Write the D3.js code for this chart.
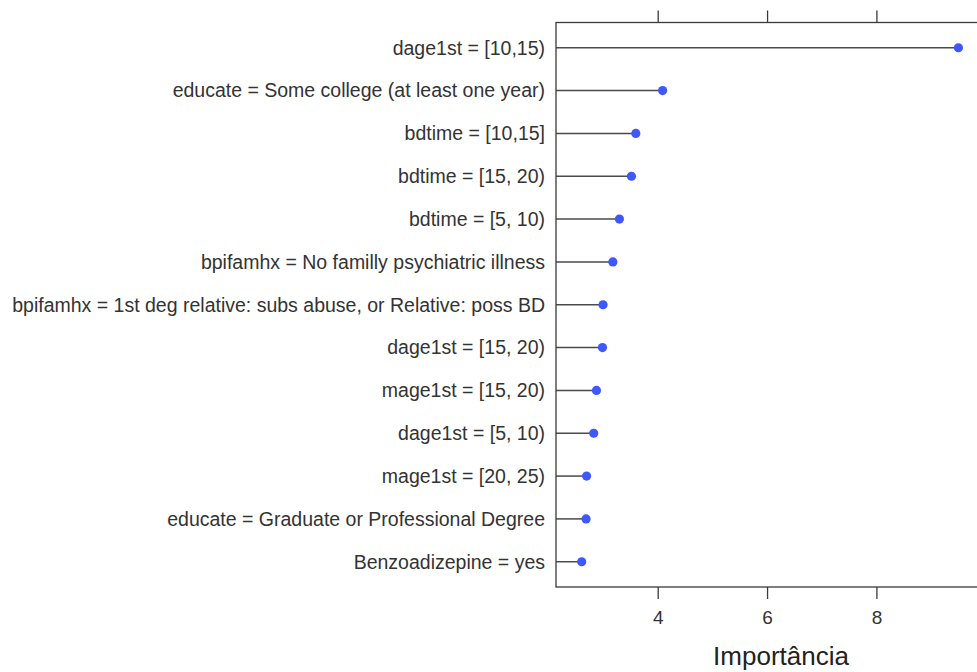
<!DOCTYPE html>
<html>
<head>
<meta charset="utf-8">
<script src="https://cdn.jsdelivr.net/npm/d3@7"></script>
<style>
  html, body { margin: 0; padding: 0; background: #fff; }
  svg { display: block; font-family: "Liberation Sans", Arial, Helvetica, sans-serif; }
</style>
</head>
<body>
<svg id="chart" width="977" height="672"></svg>
<script>
// Variable importance, one row per predictor level (top row = most important)
const features = [
  "dage1st = [10,15)",
  "educate = Some college (at least one year)",
  "bdtime = [10,15]",
  "bdtime = [15, 20)",
  "bdtime = [5, 10)",
  "bpifamhx = No familly psychiatric illness",
  "bpifamhx = 1st deg relative: subs abuse, or Relative: poss BD",
  "dage1st = [15, 20)",
  "mage1st = [15, 20)",
  "dage1st = [5, 10)",
  "mage1st = [20, 25)",
  "educate = Graduate or Professional Degree",
  "Benzoadizepine = yes"
];
const importance = [9.50, 4.09, 3.60, 3.52, 3.30, 3.18, 3.00, 2.99, 2.88, 2.83, 2.70, 2.69, 2.61];
const xTicks = [4, 6, 8];
const xLabel = "Importância";

const svg = d3.select("#chart");
const panel = { left: 556, right: 1006, top: 22.5, bottom: 587 };

const x = d3.scaleLinear().domain([2.14, 10.37]).range([panel.left, panel.right]);
const y = d3.scalePoint().domain(features).range([panel.top, panel.bottom]).padding(0.59);

const axisColor = "#3a3a3a";

// lollipop stems from the panel's left edge
svg.append("g").selectAll("line")
  .data(features)
  .join("line")
  .attr("x1", panel.left)
  .attr("x2", (d, i) => x(importance[i]))
  .attr("y1", d => y(d))
  .attr("y2", d => y(d))
  .attr("stroke", "#4a4a4a")
  .attr("stroke-width", 1.5);

// points
svg.append("g").selectAll("circle")
  .data(features)
  .join("circle")
  .attr("cx", (d, i) => x(importance[i]))
  .attr("cy", d => y(d))
  .attr("r", 4.6)
  .attr("fill", "#3f57ff");

// panel frame
svg.append("rect")
  .attr("x", panel.left).attr("y", panel.top)
  .attr("width", panel.right - panel.left).attr("height", panel.bottom - panel.top)
  .attr("fill", "none").attr("stroke", axisColor).attr("stroke-width", 1.3);

// bottom axis with labels
const axisB = svg.append("g")
  .attr("transform", `translate(0,${panel.bottom})`)
  .call(d3.axisBottom(x).tickValues(xTicks).tickSize(12).tickPadding(12).tickSizeOuter(0));
axisB.select(".domain").remove();
axisB.selectAll(".tick line").attr("stroke", axisColor).attr("stroke-width", 1.3);
axisB.selectAll(".tick text")
  .attr("fill", "#333").style("font-size", "19px")
  .style("font-family", "'Liberation Sans', Arial, sans-serif");

// top axis: ticks only
const axisT = svg.append("g")
  .attr("transform", `translate(0,${panel.top})`)
  .call(d3.axisTop(x).tickValues(xTicks).tickSize(12).tickFormat("").tickSizeOuter(0));
axisT.select(".domain").remove();
axisT.selectAll(".tick line").attr("stroke", axisColor).attr("stroke-width", 1.3);

// category labels
svg.append("g").selectAll("text")
  .data(features)
  .join("text")
  .attr("x", 545)
  .attr("y", d => y(d))
  .attr("dy", "0.35em")
  .attr("text-anchor", "end")
  .attr("fill", "#333")
  .style("font-size", "19.5px")
  .text(d => d);

// x axis title
svg.append("text")
  .attr("x", (panel.left + panel.right) / 2)
  .attr("y", 665)
  .attr("text-anchor", "middle")
  .attr("fill", "#222")
  .style("font-size", "26px")
  .text(xLabel);
</script>
</body>
</html>
